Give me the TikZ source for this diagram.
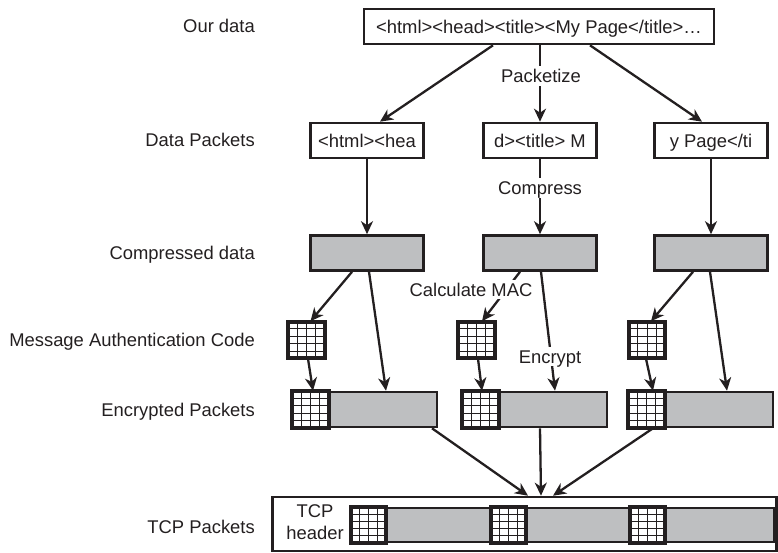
\documentclass[tikz,border=0pt]{standalone}
\usepackage{fontspec}
\setmainfont{Liberation Sans}
\usetikzlibrary{arrows.meta,calc}
\definecolor{ink}{RGB}{35,31,32}
\definecolor{boxgray}{RGB}{190,191,193}
\newcommand\drawcells[1]{%
  \foreach \k in {1,2,3}{\draw[cellline] ($(#1.north west)!\k/4!(#1.north east)$) -- ($(#1.south west)!\k/4!(#1.south east)$);}%
  \foreach \k in {1,2,3,4}{\draw[cellline] ($(#1.north west)!\k/5!(#1.south west)$) -- ($(#1.north east)!\k/5!(#1.south east)$);}%
  \draw[line width=2.6pt, draw=ink] (#1.north west) rectangle (#1.south east);}
\begin{document}
\begin{tikzpicture}[x=1pt,y=-1pt,
  font=\fontsize{18.4}{22}\selectfont,
  every node/.style={text=ink},
  txt/.style={text height=13.2pt, text depth=0pt},
  box/.style={draw=ink, line width=2.6pt, fill=white, inner sep=0pt, minimum height=35pt, txt},
  gbox/.style={box, fill=boxgray},
  cellbox/.style={box, minimum width=35pt},
  cellline/.style={line width=1pt, draw=ink},
  arr/.style={draw=ink, line width=2.3pt, -{Stealth[length=13pt,width=12pt,inset=4pt]}},
  lab/.style={anchor=east, inner sep=0pt, txt},
  act/.style={fill=white, inner xsep=1.5pt, inner ysep=3pt, txt}]
\useasboundingbox (0,0) rectangle (778,552);

% row labels
\node[lab] (l1) at (255,26) {Our data};
\node[lab] (l2) at (255,140) {Data Packets};
\node[lab] (l3) at (255,253) {Compressed data};
\node[lab] (l4) at (255,339.5) {Message Authentication Code};
\node[lab] (l5) at (255,410) {Encrypted Packets};
\node[lab] (l6) at (255,526.5) {TCP Packets};

% our data
\node[box, minimum width=350pt] (top) at (539,26.5) {<html><head><title><My Page</title>…};

% data packets
\node[box, minimum width=113pt] (dp1) at (367,140.5) {<html><hea};
\node[box, minimum width=113pt] (dp2) at (540,140.5) {d><title> M};
\node[box, minimum width=113pt] (dp3) at (711,140.5) {y Page</ti};

% compressed
\node[gbox, minimum width=113pt] (cp1) at (367,253) {};
\node[gbox, minimum width=113pt] (cp2) at (540,253) {};
\node[gbox, minimum width=113pt] (cp3) at (711,253) {};

% MAC
\node[cellbox] (mac1) at (306.5,340) {};
\node[cellbox] (mac2) at (476.5,340) {};
\node[cellbox] (mac3) at (647,340) {};

% encrypted packets
\node[gbox, minimum width=109pt] (ep1) at (382.5,409.5) {};
\node[cellbox] (eg1) at (310.5,409.5) {};
\node[gbox, minimum width=109pt] (ep2) at (552.5,409.5) {};
\node[cellbox] (eg2) at (480.5,409.5) {};
\node[gbox, minimum width=109pt] (ep3) at (718.5,409.5) {};
\node[cellbox] (eg3) at (646.5,409.5) {};

% TCP packets
\node[box, minimum width=504pt, minimum height=54pt] (tcp) at (524.5,524) {};
\node[gbox, minimum width=107pt, minimum height=34pt] (tp1) at (438.5,525) {};
\node[gbox, minimum width=106pt, minimum height=34pt] (tp2) at (578,525) {};
\node[gbox, minimum width=110pt, minimum height=34pt] (tp3) at (719,525) {};
\node[cellbox, minimum width=33pt, minimum height=34pt] (tg1) at (368.5,525) {};
\node[cellbox, minimum width=33pt, minimum height=34pt] (tg2) at (508.5,525) {};
\node[cellbox, minimum width=33pt, minimum height=34pt] (tg3) at (647.5,525) {};
\node[align=center, inner sep=0pt, font=\fontsize{18.4}{22}\selectfont] (hdr) at (315,522.3) {TCP\\header};

% grids
\drawcells{mac1}\drawcells{mac2}\drawcells{mac3}
\drawcells{eg1}\drawcells{eg2}\drawcells{eg3}
\drawcells{tg1}\drawcells{tg2}\drawcells{tg3}

% packetize
\draw[arr] ([xshift=-46pt]top.south) -- ([xshift=13pt]dp1.north);
\draw[arr] (dp2.north |- top.south) -- (dp2.north);
\draw[arr] ([xshift=51pt]top.south) -- ([xshift=-9pt]dp3.north);
\node[act] (pk) at (541,76) {Packetize};

% compress
\draw[arr] (dp1.south) -- (cp1.north);
\draw[arr] (dp2.south) -- (cp2.north);
\draw[arr] (dp3.south) -- (cp3.north);
\node[act] (cm) at (540,188) {Compress};

% calculate MAC
\draw[arr] ([xshift=-15pt]cp1.south) -- ([xshift=4pt]mac1.north);
\draw[arr] ([xshift=-20pt]cp2.south) -- ([xshift=5.5pt]mac2.north);
\draw[arr] ([xshift=-18pt]cp3.south) -- ([xshift=4pt]mac3.north);
\node[act] (cmac) at (471,289.5) {Calculate MAC};

% encrypt
\draw[arr] ([xshift=2pt]cp1.south) -- ([xshift=3.5pt]ep1.north);
\draw[arr] ([xshift=1pt]cp2.south) -- ([xshift=2.5pt]ep2.north);
\draw[arr] ([xshift=-1pt]cp3.south) -- ([xshift=8.5pt]ep3.north);
\node[act] (enc) at (550,356.5) {Encrypt};

% MAC into packets
\draw[arr] ([xshift=1.5pt]mac1.south) -- ([xshift=2.5pt]eg1.north);
\draw[arr] ([xshift=1.5pt]mac2.south) -- ([xshift=1.5pt]eg2.north);
\draw[arr] ([xshift=-1pt]mac3.south) -- ([xshift=6.5pt]eg3.north);

% into TCP
\draw[arr] ([xshift=49.5pt]ep1.south) -- ([xshift=3.5pt]tcp.north);
\draw[arr] ([xshift=-12.5pt]ep2.south) -- ([xshift=16.5pt]tcp.north);
\draw[arr] ([xshift=6.5pt]eg3.south) -- ([xshift=28.5pt]tcp.north);
\end{tikzpicture}
\end{document}
